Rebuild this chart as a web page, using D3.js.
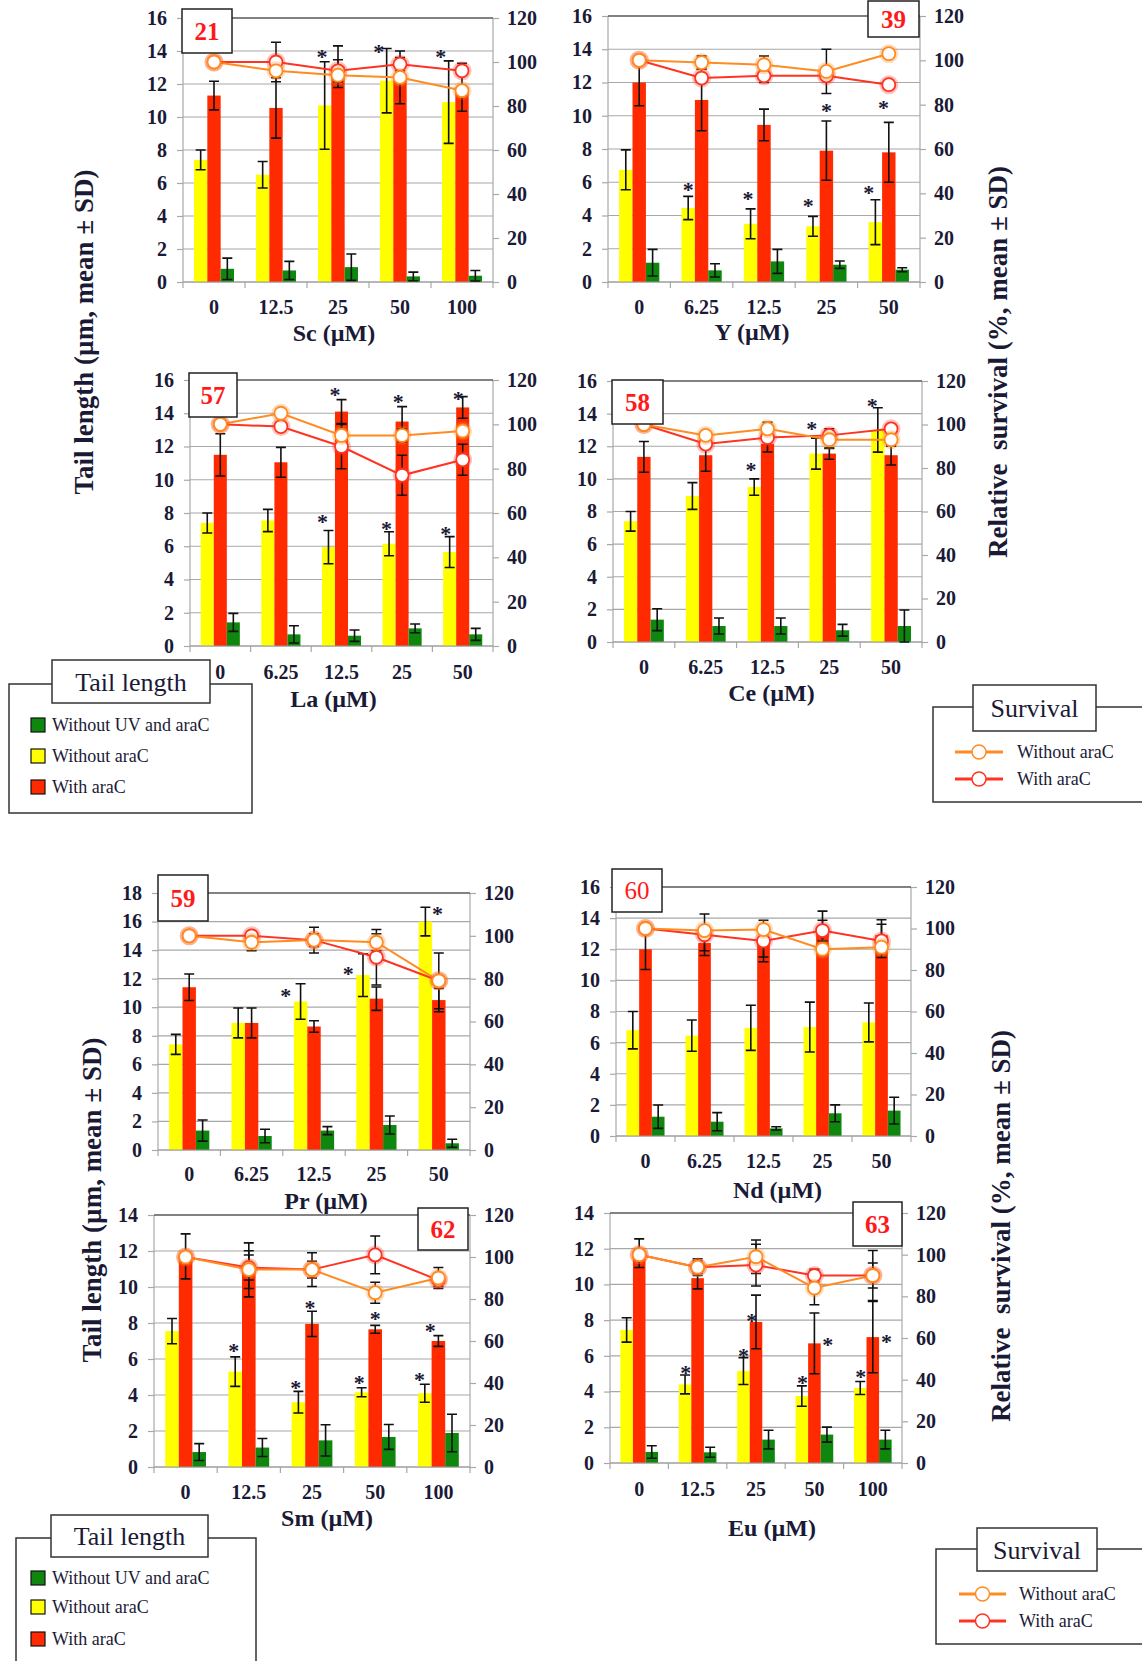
<!DOCTYPE html>
<html>
<head>
<meta charset="utf-8">
<script src="https://cdnjs.cloudflare.com/ajax/libs/d3/7.8.5/d3.min.js"></script>
<style>
body { margin: 0; background: #fff; }
svg { display: block; }
</style>
</head>
<body>
<script>

// ---- data ----
var panelNames = ["Sc", "Y", "La", "Ce", "Pr", "Nd", "Sm", "Eu"];
var boxLabels  = ["21", "39", "57", "58", "59", "60", "62", "63"];

var concA = ["0", "12.5", "25", "50", "100"];
var concB = ["0", "6.25", "12.5", "25", "50"];
var concLabels = [concA, concB, concB, concB, concB, concB, concA, concA];

// tail length, without araC (yellow)
var withoutAraC = [
  [7.4, 6.5, 10.7, 12.2, 10.9],
  [6.75, 4.45, 3.5, 3.35, 3.6],
  [7.4, 7.55, 5.95, 6.15, 5.65],
  [7.4, 8.95, 9.5, 11.55, 13.0],
  [7.4, 8.9, 10.4, 12.25, 16.0],
  [6.8, 6.45, 6.95, 7.0, 7.3],
  [7.55, 5.3, 3.6, 4.15, 4.1],
  [7.45, 4.4, 5.15, 3.75, 4.2]
];
var withoutAraCSd = [
  [0.6, 0.8, 2.65, 1.95, 2.5],
  [1.2, 0.7, 0.9, 0.6, 1.35],
  [0.6, 0.67, 1.0, 0.72, 0.93],
  [0.6, 0.82, 0.5, 0.95, 1.36],
  [0.7, 1.05, 1.24, 1.5, 1.0],
  [1.2, 1.0, 1.45, 1.6, 1.25],
  [0.7, 0.82, 0.6, 0.25, 0.5],
  [0.68, 0.53, 0.75, 0.57, 0.36]
];

// tail length, with araC (red)
var withAraC = [
  [11.3, 10.55, 13.05, 12.4, 11.8],
  [12.0, 10.95, 9.45, 7.9, 7.8],
  [11.5, 11.05, 14.1, 13.5, 14.35],
  [11.35, 11.45, 12.15, 11.55, 11.45],
  [11.4, 8.9, 8.65, 10.6, 10.5],
  [12.0, 12.4, 12.3, 13.15, 12.9],
  [11.7, 10.95, 7.95, 7.65, 7.0],
  [11.75, 10.35, 7.9, 6.7, 7.05]
];
var withAraCSd = [
  [0.87, 1.83, 1.26, 1.6, 1.45],
  [1.4, 1.85, 0.95, 1.78, 1.8],
  [1.27, 0.9, 0.72, 0.9, 0.65],
  [0.94, 0.98, 0.5, 0.35, 0.6],
  [0.93, 1.05, 0.4, 0.82, 0.82],
  [1.3, 0.5, 0.8, 1.3, 1.0],
  [1.25, 1.5, 0.7, 0.22, 0.3],
  [0.8, 0.6, 1.5, 1.7, 2.0]
];

// tail length, without UV and araC (green)
var noUvNoAraC = [
  [0.8, 0.7, 0.9, 0.34, 0.38],
  [1.16, 0.7, 1.24, 1.04, 0.74],
  [1.42, 0.7, 0.62, 1.06, 0.7],
  [1.37, 0.98, 0.98, 0.72, 0.98],
  [1.36, 0.98, 1.36, 1.75, 0.47],
  [1.24, 0.92, 0.49, 1.46, 1.63],
  [0.83, 1.08, 1.48, 1.67, 1.89],
  [0.62, 0.6, 1.31, 1.59, 1.31]
];
var noUvNoAraCSd = [
  [0.65, 0.55, 0.8, 0.26, 0.32],
  [0.8, 0.4, 0.72, 0.22, 0.12],
  [0.54, 0.52, 0.34, 0.26, 0.36],
  [0.67, 0.49, 0.49, 0.36, 0.98],
  [0.74, 0.47, 0.28, 0.63, 0.28],
  [0.75, 0.58, 0.1, 0.54, 0.86],
  [0.47, 0.5, 0.87, 0.69, 1.04],
  [0.35, 0.28, 0.52, 0.42, 0.52]
];

// relative survival (%), without araC (orange line)
var survNoAraC = [
  [100, 96, 94, 93, 87],
  [100, 99, 98, 95, 103],
  [100, 105, 95, 95, 97],
  [100, 95, 98, 93, 93],
  [100, 97, 98, 97, 79],
  [100, 99, 99.5, 90, 91],
  [100, 94, 94, 83, 90],
  [100, 94, 99, 84, 90]
];
var survNoAraCSd = [
  [0, 1, 3, 2, 1],
  [0, 3, 4, 10, 2],
  [0, 1, 5, 3, 2],
  [0, 2, 3, 4, 3],
  [0, 4, 3, 4, 2],
  [0, 2, 2, 2, 2],
  [0, 9, 8, 5, 5],
  [0, 4, 8, 8, 6]
];

// relative survival (%), with araC (red line)
var survAraC = [
  [100, 100, 96, 99, 96],
  [100, 92, 93, 93, 89],
  [100, 99, 90, 77, 84],
  [100, 91, 94, 95, 98],
  [100, 100, 98, 90, 79],
  [100, 97, 94, 99, 94],
  [100, 95, 94, 101, 89],
  [100, 94, 95, 90, 90]
];
var survAraCSd = [
  [0, 9, 5, 3, 2],
  [0, 2, 3, 2, 2],
  [0, 2, 10, 9, 7],
  [0, 2, 2, 3, 2],
  [0, 2, 6, 13, 13],
  [0, 10, 10, 5, 8],
  [0, 6, 4, 9, 3],
  [0, 3, 10, 3, 12]
];

// significance stars: [group, offset in bar widths from red bar, tail-length level]
var stars = [
  [[2, -1.2, 13.95], [3, -1.6, 14.25], [4, -1.6, 13.95]],
  [[1, -1.0, 5.85], [2, -1.2, 5.3], [3, -1.35, 4.9], [4, -1.5, 5.67], [3, 0, 10.6], [4, -0.4, 10.8]],
  [[2, -1.45, 7.78], [3, -1.2, 7.37], [4, -1.3, 7.07], [2, -0.5, 15.39], [3, -0.3, 14.99], [4, -0.35, 15.19]],
  [[2, -1.24, 10.84], [3, -1.32, 13.4], [4, -1.41, 14.8]],
  [[2, -2.1, 11.15], [3, -2.1, 12.69], [4, -0.1, 16.9]],
  [],
  [[1, -1.1, 6.73], [2, -1.2, 4.69], [2, -0.15, 9.09], [3, -1.17, 4.97], [3, 0, 8.5], [4, -1.4, 5.1], [4, -0.6, 7.83]],
  [[1, -0.94, 5.35], [2, -1.0, 6.29], [2, -0.34, 8.21], [3, -0.95, 4.79], [3, 1.06, 6.9], [4, -0.96, 5.09], [4, 1.1, 7.05]]
];

var tailItems = ["Without UV and araC", "Without araC", "With araC"];
var survItems = ["Without araC", "With araC"];

// ---- layout ----
var frames = [
  {l: 183, r: 493, t: 18,   b: 282,  yMax: 16, box: [182, 9, 50, 44],    tickY: 307,  titleY: 333,  titleDx: -4},
  {l: 608, r: 920, t: 16,   b: 282,  yMax: 16, box: [868, 1, 51, 36],    tickY: 307,  titleY: 332,  titleDx: -12},
  {l: 190, r: 493, t: 380,  b: 646,  yMax: 16, box: [189, 373, 48, 44],  tickY: 672,  titleY: 699,  titleDx: -8},
  {l: 613, r: 922, t: 381,  b: 642,  yMax: 16, box: [612, 380, 51, 44],  tickY: 667,  titleY: 693,  titleDx: 4},
  {l: 158, r: 470, t: 893,  b: 1150, yMax: 18, box: [158, 875, 50, 46],  tickY: 1174, titleY: 1201, titleDx: 12},
  {l: 616, r: 911, t: 887,  b: 1136, yMax: 16, box: [612, 869, 50, 43],  tickY: 1161, titleY: 1190, titleDx: 14, light: true},
  {l: 154, r: 470, t: 1215, b: 1467, yMax: 14, box: [418, 1208, 50, 42], tickY: 1492, titleY: 1518, titleDx: 15},
  {l: 610, r: 902, t: 1213, b: 1463, yMax: 14, box: [853, 1202, 49, 44], tickY: 1489, titleY: 1528, titleDx: 16}
];

var YEL = "#ffff00", RED = "#ff2a00", GRN = "#0f870f";
var ORG = "#ff8c22", LRED = "#ff3322";
var INK = "#1a1a36", GRID = "#a8a8a8";
var serif = "'Liberation Serif', 'Times New Roman', serif";

var w = 1142, h = 1661;

var svg = d3.select("body")
  .append("svg")
  .attr("width", w)
  .attr("height", h)
  .attr("font-family", serif);

frames.forEach(function (f, i) {
  var n = concLabels[i].length;
  var x = d3.scaleBand().domain(d3.range(n)).range([f.l, f.r]);
  var y = d3.scaleLinear().domain([0, f.yMax]).range([f.b, f.t]);
  var yS = d3.scaleLinear().domain([0, 120]).range([f.b, f.t]);
  var bw = x.bandwidth() * 0.215;
  var mid = function (k) { return x(k) + x.bandwidth() / 2; };
  var g = svg.append("g");

  // grid
  var leftTicks = d3.range(0, f.yMax + 0.1, 2);
  g.append("g").selectAll("line").data(leftTicks).join("line")
    .attr("x1", f.l).attr("x2", f.r)
    .attr("y1", function (d) { return y(d); })
    .attr("y2", function (d) { return y(d); })
    .attr("stroke", GRID).attr("stroke-width", 1.2);

  // left axis
  var axL = g.append("g").attr("transform", "translate(" + f.l + ",0)")
    .call(d3.axisLeft(y).tickValues(leftTicks).tickSize(6).tickPadding(10).tickFormat(d3.format("d")));
  axL.select(".domain").remove();
  axL.attr("font-size", 20).attr("font-family", serif).attr("font-weight", "bold");
  axL.selectAll("line").attr("stroke", GRID).attr("stroke-width", 1.2);
  axL.selectAll("text").attr("fill", INK);

  // right axis
  var axR = g.append("g").attr("transform", "translate(" + f.r + ",0)")
    .call(d3.axisRight(yS).tickValues(d3.range(0, 121, 20)).tickSize(6).tickPadding(8));
  axR.select(".domain").remove();
  axR.attr("font-size", 20).attr("font-family", serif).attr("font-weight", "bold");
  axR.selectAll("line").attr("stroke", GRID).attr("stroke-width", 1.2);
  axR.selectAll("text").attr("fill", INK);

  // category ticks and labels
  g.append("g").selectAll("line").data(d3.range(n + 1)).join("line")
    .attr("x1", function (k) { return f.l + k * x.step(); })
    .attr("x2", function (k) { return f.l + k * x.step(); })
    .attr("y1", f.b).attr("y2", f.b + 6)
    .attr("stroke", GRID).attr("stroke-width", 1.2);
  g.append("g").selectAll("text").data(concLabels[i]).join("text")
    .attr("x", function (d, k) { return mid(k); })
    .attr("y", f.tickY).attr("dy", "0.35em")
    .attr("text-anchor", "middle")
    .attr("font-size", 20).attr("font-weight", "bold").attr("fill", INK)
    .text(function (d) { return d; });
  g.append("text")
    .attr("x", (f.l + f.r) / 2 + f.titleDx).attr("y", f.titleY).attr("dy", "0.35em")
    .attr("text-anchor", "middle")
    .attr("font-size", 24).attr("font-weight", "bold").attr("fill", INK)
    .text(panelNames[i] + " (\u00b5M)");

  // bars
  var seriesList = [
    {m: withoutAraC[i], s: withoutAraCSd[i], off: -1, c: YEL},
    {m: withAraC[i], s: withAraCSd[i], off: 0, c: RED},
    {m: noUvNoAraC[i], s: noUvNoAraCSd[i], off: 1, c: GRN}
  ];
  seriesList.forEach(function (se) {
    g.append("g").selectAll("rect").data(se.m).join("rect")
      .attr("x", function (d, k) { return mid(k) + se.off * bw - bw / 2; })
      .attr("width", bw)
      .attr("y", function (d) { return y(d); })
      .attr("height", function (d) { return f.b - y(d); })
      .attr("fill", se.c);
  });

  // borders
  g.append("line").attr("x1", f.l).attr("x2", f.l).attr("y1", f.t).attr("y2", f.b)
    .attr("stroke", GRID).attr("stroke-width", 1.2);
  g.append("line").attr("x1", f.r).attr("x2", f.r).attr("y1", f.t).attr("y2", f.b)
    .attr("stroke", GRID).attr("stroke-width", 1.2);
  g.append("line").attr("x1", f.l).attr("x2", f.r).attr("y1", f.b).attr("y2", f.b)
    .attr("stroke", "#999").attr("stroke-width", 1.2);
  g.append("line").attr("x1", f.l).attr("x2", f.r).attr("y1", f.t).attr("y2", f.t)
    .attr("stroke", "#333").attr("stroke-width", 1.2);

  // bar error bars
  var cap = 5;
  seriesList.forEach(function (se) {
    g.append("g").selectAll("path").data(se.m).join("path")
      .attr("d", function (v, k) {
        var xc = mid(k) + se.off * bw;
        var lo = y(Math.max(0, v - se.s[k])), hi = y(v + se.s[k]);
        return "M" + xc + "," + lo + "V" + hi +
          "M" + (xc - cap) + "," + hi + "H" + (xc + cap) +
          "M" + (xc - cap) + "," + lo + "H" + (xc + cap);
      })
      .attr("fill", "none").attr("stroke", "#111").attr("stroke-width", 1.6);
  });

  // survival lines
  var lines = [
    {v: survAraC[i], s: survAraCSd[i], c: LRED},
    {v: survNoAraC[i], s: survNoAraCSd[i], c: ORG}
  ];
  var lineGen = d3.line()
    .x(function (d, k) { return mid(k); })
    .y(function (d) { return yS(d); });
  lines.forEach(function (ln) {
    g.append("path").datum(ln.v).attr("d", lineGen)
      .attr("fill", "none").attr("stroke", ln.c).attr("stroke-width", 2);
  });
  lines.forEach(function (ln) {
    g.append("g").selectAll("path").data(ln.v).join("path")
      .attr("d", function (v, k) {
        if (!ln.s[k]) return null;
        var xc = mid(k), lo = yS(v - ln.s[k]), hi = yS(v + ln.s[k]);
        return "M" + xc + "," + lo + "V" + hi +
          "M" + (xc - cap) + "," + hi + "H" + (xc + cap) +
          "M" + (xc - cap) + "," + lo + "H" + (xc + cap);
      })
      .attr("fill", "none").attr("stroke", "#111").attr("stroke-width", 1.5);
  });
  lines.forEach(function (ln) {
    var mg = g.append("g");
    mg.selectAll("circle.halo").data(ln.v).join("circle").attr("class", "halo")
      .attr("cx", function (d, k) { return mid(k); })
      .attr("cy", function (d) { return yS(d); })
      .attr("r", 8).attr("fill", "none")
      .attr("stroke", ln.c).attr("stroke-opacity", 0.3).attr("stroke-width", 3);
    mg.selectAll("circle.dot").data(ln.v).join("circle").attr("class", "dot")
      .attr("cx", function (d, k) { return mid(k); })
      .attr("cy", function (d) { return yS(d); })
      .attr("r", 6.5).attr("fill", "#fff")
      .attr("stroke", ln.c).attr("stroke-width", 1.8);
  });

  // stars
  g.append("g").selectAll("text").data(stars[i]).join("text")
    .attr("x", function (d) { return mid(d[0]) + d[1] * bw; })
    .attr("y", function (d) { return y(d[2]); })
    .attr("dy", "0.55em")
    .attr("text-anchor", "middle")
    .attr("font-size", 22).attr("font-weight", "bold").attr("fill", INK)
    .text("*");

  // number box
  g.append("rect")
    .attr("x", f.box[0]).attr("y", f.box[1]).attr("width", f.box[2]).attr("height", f.box[3])
    .attr("fill", "#fff").attr("stroke", "#222").attr("stroke-width", 1.5);
  g.append("text")
    .attr("x", f.box[0] + f.box[2] / 2).attr("y", f.box[1] + f.box[3] / 2).attr("dy", "0.35em")
    .attr("text-anchor", "middle")
    .attr("font-size", 25).attr("font-weight", f.light ? "normal" : "bold")
    .attr("fill", "#ff1a1a")
    .text(boxLabels[i]);
});

// y-axis titles
var yTitles = [
  {x: 84, y: 332, t: "Tail length (\u00b5m, mean \u00b1 SD)"},
  {x: 998, y: 362, t: "Relative  survival (%, mean \u00b1 SD)"},
  {x: 92, y: 1200, t: "Tail length (\u00b5m, mean \u00b1 SD)"},
  {x: 1001, y: 1226, t: "Relative  survival (%, mean \u00b1 SD)"}
];
svg.append("g").selectAll("text").data(yTitles).join("text")
  .attr("transform", function (d) { return "translate(" + d.x + "," + d.y + ") rotate(-90)"; })
  .attr("dy", "0.35em")
  .attr("text-anchor", "middle")
  .attr("font-size", 27).attr("font-weight", "bold").attr("fill", INK)
  .style("white-space", "pre")
  .text(function (d) { return d.t; });

// legends
var tailLegends = [
  {box: [9, 684, 243, 129], title: [52, 660, 158, 43], itemsY: [725, 756, 787]},
  {box: [16, 1538, 240, 140], title: [51, 1515, 157, 42], itemsY: [1578, 1607, 1639]}
];
var survLegends = [
  {box: [933, 707, 230, 95], title: [973, 685, 123, 46], itemsY: [752, 779], lineX: [955, 1003], textX: 1017},
  {box: [936, 1549, 230, 95], title: [977, 1528, 120, 43], itemsY: [1594, 1621], lineX: [959, 1006], textX: 1019}
];
var tailColors = [GRN, YEL, RED];
var survColors = [ORG, LRED];

function legendFrame(lg, label) {
  var gg = svg.append("g");
  gg.append("rect")
    .attr("x", lg.box[0]).attr("y", lg.box[1]).attr("width", lg.box[2]).attr("height", lg.box[3])
    .attr("fill", "#fff").attr("stroke", "#333").attr("stroke-width", 1.5);
  gg.append("rect")
    .attr("x", lg.title[0]).attr("y", lg.title[1]).attr("width", lg.title[2]).attr("height", lg.title[3])
    .attr("fill", "#fff").attr("stroke", "#333").attr("stroke-width", 1.5);
  gg.append("text")
    .attr("x", lg.title[0] + lg.title[2] / 2).attr("y", lg.title[1] + lg.title[3] / 2).attr("dy", "0.35em")
    .attr("text-anchor", "middle").attr("font-size", 26).attr("fill", INK)
    .text(label);
  return gg;
}

tailLegends.forEach(function (lg) {
  var gg = legendFrame(lg, "Tail length");
  gg.selectAll("rect.sw").data(tailItems).join("rect").attr("class", "sw")
    .attr("x", 31).attr("y", function (d, k) { return lg.itemsY[k] - 7; })
    .attr("width", 14).attr("height", 14)
    .attr("fill", function (d, k) { return tailColors[k]; })
    .attr("stroke", "#111").attr("stroke-width", 1.2);
  gg.selectAll("text.it").data(tailItems).join("text").attr("class", "it")
    .attr("x", 52).attr("y", function (d, k) { return lg.itemsY[k]; }).attr("dy", "0.35em")
    .attr("font-size", 18).attr("fill", INK)
    .text(function (d) { return d; });
});

survLegends.forEach(function (lg) {
  var gg = legendFrame(lg, "Survival");
  gg.selectAll("line.ln").data(survItems).join("line").attr("class", "ln")
    .attr("x1", lg.lineX[0]).attr("x2", lg.lineX[1])
    .attr("y1", function (d, k) { return lg.itemsY[k]; })
    .attr("y2", function (d, k) { return lg.itemsY[k]; })
    .attr("stroke", function (d, k) { return survColors[k]; }).attr("stroke-width", 3);
  gg.selectAll("circle.mk").data(survItems).join("circle").attr("class", "mk")
    .attr("cx", (lg.lineX[0] + lg.lineX[1]) / 2)
    .attr("cy", function (d, k) { return lg.itemsY[k]; })
    .attr("r", 7).attr("fill", "#fff")
    .attr("stroke", function (d, k) { return survColors[k]; }).attr("stroke-width", 1.5);
  gg.selectAll("text.it").data(survItems).join("text").attr("class", "it")
    .attr("x", lg.textX).attr("y", function (d, k) { return lg.itemsY[k]; }).attr("dy", "0.35em")
    .attr("font-size", 18).attr("fill", INK)
    .text(function (d) { return d; });
});

</script>
</body>
</html>
